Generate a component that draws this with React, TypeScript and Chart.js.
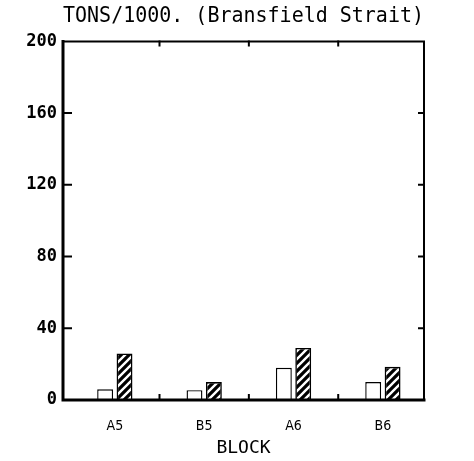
import React, { useEffect, useRef } from "react";
import { Chart, registerables } from "chart.js";

Chart.register(...registerables);

const titleText = "TONS/1000. (Bransfield Strait)";
const xAxisTitle = "BLOCK";
const categories = ["A5", "B5", "A6", "B6"];
const seriesOpen = [6, 5.5, 18, 10];
const seriesHatched = [26, 10, 29, 18.5];
const yTicks = [0, 40, 80, 120, 160, 200];

function makeHatch(): CanvasPattern | string {
  const c = document.createElement("canvas");
  c.width = 8;
  c.height = 8;
  const g = c.getContext("2d");
  if (!g) return "#000";
  g.fillStyle = "#000";
  g.fillRect(0, 0, 8, 8);
  g.strokeStyle = "#fff";
  g.lineWidth = 2.4;
  g.beginPath();
  g.moveTo(-1, 9);
  g.lineTo(9, -1);
  g.moveTo(-3, 3);
  g.lineTo(3, -3);
  g.moveTo(5, 11);
  g.lineTo(11, 5);
  g.stroke();
  const p = g.createPattern(c, "repeat");
  return p || "#000";
}

const framePlugin = {
  id: "frame",
  afterDatasetsDraw(chart: any) {
    const { ctx, chartArea } = chart;
    const { left, right, top, bottom } = chartArea;
    const xs = chart.scales.x;
    const ys = chart.scales.y;
    ctx.save();
    ctx.strokeStyle = "#000";
    ctx.lineCap = "square";
    ctx.lineWidth = 3;
    ctx.beginPath();
    ctx.moveTo(left, top);
    ctx.lineTo(left, bottom);
    ctx.lineTo(right, bottom);
    ctx.stroke();
    ctx.lineWidth = 2;
    ctx.beginPath();
    ctx.moveTo(left, top);
    ctx.lineTo(right, top);
    ctx.lineTo(right, bottom);
    ctx.stroke();
    ctx.lineWidth = 2;
    yTicks.slice(1, -1).forEach((v) => {
      const y = ys.getPixelForValue(v);
      ctx.beginPath();
      ctx.moveTo(left, y);
      ctx.lineTo(left + 8, y);
      ctx.moveTo(right, y);
      ctx.lineTo(right - 5, y);
      ctx.stroke();
    });
    for (let i = 0; i < categories.length - 1; i++) {
      const x = xs.getPixelForValue(i + 0.5);
      ctx.beginPath();
      ctx.moveTo(x, top);
      ctx.lineTo(x, top + 4);
      ctx.moveTo(x, bottom);
      ctx.lineTo(x, bottom - 5);
      ctx.stroke();
    }
    ctx.restore();
  },
};

export default function App() {
  const ref = useRef<HTMLCanvasElement | null>(null);
  useEffect(() => {
    if (!ref.current) return;
    const hatch = makeHatch();
    const chart = new Chart(ref.current, {
      type: "bar",
      data: {
        datasets: [
          {
            label: "open",
            data: seriesOpen.map((v, i) => ({ x: i, y: v })),
            backgroundColor: "#fff",
            borderColor: "#000",
            borderWidth: 1.4,
            borderSkipped: "bottom",
            categoryPercentage: 0.434,
            barPercentage: 0.82,
          },
          {
            label: "hatched",
            data: seriesHatched.map((v, i) => ({ x: i, y: v })),
            backgroundColor: hatch as any,
            borderColor: "#000",
            borderWidth: 1.6,
            borderSkipped: "bottom",
            categoryPercentage: 0.434,
            barPercentage: 0.82,
          },
        ],
      },
      options: {
        responsive: false,
        animation: false,
        events: [],
        layout: { padding: { left: 0, right: 50, top: 0, bottom: 0 } },
        plugins: {
          legend: { display: false },
          tooltip: { enabled: false },
          title: {
            display: true,
            text: titleText,
            fullSize: false,
            align: "start",
            color: "#000",
            font: { family: "'DejaVu Sans Mono', monospace", size: 22, weight: "normal" },
            padding: { top: 3, bottom: 12 },
          },
        },
        scales: {
          x: {
            type: "linear",
            min: -0.58,
            max: 3.46,
            offset: false,
            grid: { display: false, drawTicks: false, offset: false },
            border: { display: false },
            afterBuildTicks: (scale: any) => {
              scale.ticks = categories.map((_, i) => ({ value: i }));
            },
            afterFit: (scale: any) => {
              scale.height = 61;
            },
            ticks: {
              autoSkip: false,
              maxRotation: 0,
              padding: 18,
              color: "#000",
              font: { family: "'Liberation Sans Narrow', 'DejaVu Sans Condensed', sans-serif", size: 14 },
              callback: (v: any) => categories[Math.round(Number(v))] ?? "",
            },
            title: {
              display: true,
              text: xAxisTitle,
              color: "#000",
              font: { family: "'DejaVu Sans Mono', monospace", size: 18 },
              padding: { top: 0, bottom: 2 },
            },
          },
          y: {
            min: 0,
            max: 200,
            grid: { display: false, drawTicks: false },
            border: { display: false },
            afterBuildTicks: (scale: any) => {
              scale.ticks = yTicks.map((v) => ({ value: v }));
            },
            afterFit: (scale: any) => {
              scale.width = 63;
            },
            ticks: {
              padding: 6,
              color: "#000",
              font: { family: "'DejaVu Sans Mono', monospace", size: 17, weight: "bold" },
            },
          },
        },
      },
      plugins: [framePlugin],
    } as any);
    return () => chart.destroy();
  }, []);
  return (
    <div style={{ position: "fixed", left: 0, top: 0, width: 474, height: 461, background: "#fff" }}>
      <canvas ref={ref} width={474} height={461} />
    </div>
  );
}
